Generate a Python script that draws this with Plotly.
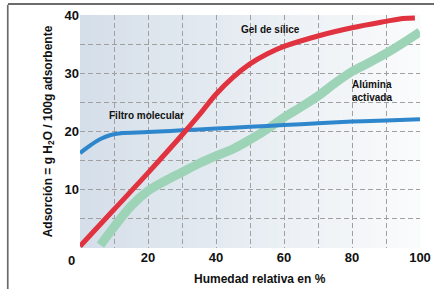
import plotly.graph_objects as go

# Data
blue_x = [0, 3, 6, 9, 12, 20, 30, 40, 50, 60, 70, 80, 90, 100]
blue_y = [16.3, 17.6, 18.7, 19.4, 19.7, 19.9, 20.2, 20.5, 20.8, 21.1, 21.4, 21.7, 21.9, 22.1]
red_x = [0, 10, 20, 30, 35, 40, 45, 50, 55, 60, 70, 80, 90, 95, 98.5]
red_y = [0.3, 6.6, 12.9, 19.4, 22.8, 26.4, 29.3, 31.6, 33.3, 34.6, 36.4, 37.8, 38.9, 39.4, 39.5]
green_x = [6, 10, 15, 20, 25, 30, 35, 40, 45, 50, 55, 60, 65, 70, 75, 80, 85, 90, 95, 100]
green_y = [0.5, 3.6, 7.2, 9.8, 11.5, 13.0, 14.5, 15.8, 17.0, 18.6, 20.4, 22.4, 24.2, 26.1, 28.3, 30.3, 31.8, 33.4, 35.2, 37.1]
x_ticks = [10, 20, 30, 40, 50, 60, 70, 80, 90, 100]
x_labels = ["", "20", "", "40", "", "60", "", "80", "", "100"]
y_ticks = [5, 10, 15, 20, 25, 30, 35, 40]
y_labels = ["", "10", "", "20", "", "30", "", "40"]

FONT = "Liberation Sans, Arial, sans-serif"

fig = go.Figure()
fig.add_trace(go.Scatter(x=green_x, y=green_y, mode="lines", line=dict(color="#9dd3b6", width=9, shape="spline"), hoverinfo="skip", cliponaxis=False))
fig.add_trace(go.Scatter(x=blue_x, y=blue_y, mode="lines", line=dict(color="#2e86cc", width=4, shape="spline"), hoverinfo="skip"))
fig.add_trace(go.Scatter(x=red_x, y=red_y, mode="lines", line=dict(color="#e0323f", width=5, shape="spline"), hoverinfo="skip"))

# gradient background
shapes = []
n = 60
c0 = (213, 223, 233)
c1 = (250, 251, 252)
for i in range(n):
    t = i / (n - 1)
    c = tuple(int(round(c0[k] + (c1[k] - c0[k]) * t)) for k in range(3))
    shapes.append(dict(type="rect", xref="x domain", yref="y domain", x0=i / n, x1=(i + 1) / n + 0.002,
                       y0=0, y1=1, layer="below", line=dict(width=0),
                       fillcolor="rgb(%d,%d,%d)" % c))
# left frame edge
shapes.append(dict(type="rect", xref="paper", yref="paper", x0=-0.215, x1=-0.21, y0=1.044, y1=-0.2,
                   line=dict(width=0), fillcolor="#6b6b6b", layer="above"))

fig.update_layout(
    width=434, height=289,
    margin=dict(l=80, r=14, t=15, b=41),
    paper_bgcolor="white", plot_bgcolor="rgba(0,0,0,0)",
    showlegend=False,
    shapes=shapes,
    font=dict(family=FONT, color="#111"),
)
fig.update_xaxes(range=[0, 100], tickmode="array", tickvals=x_ticks, ticktext=x_labels,
                 showgrid=True, gridcolor="#a0a0a0", griddash="5px,3px", gridwidth=1,
                 zeroline=False, showline=False, ticks="", automargin=False,
                 tickfont=dict(size=13, family=FONT, color="#111", weight="bold"))
fig.update_yaxes(range=[0, 40], tickmode="array", tickvals=y_ticks, ticktext=y_labels,
                 showgrid=True, gridcolor="#a0a0a0", griddash="5px,3px", gridwidth=1,
                 zeroline=False, showline=False, ticks="", automargin=False,
                 tickfont=dict(size=13, family=FONT, color="#111", weight="bold"),
                 title=dict(text="<b>Adsorción = g H<sub>2</sub>O / 100g adsorbente</b>", font=dict(size=12, family=FONT), standoff=9))

ann = dict(showarrow=False, font=dict(size=10, family=FONT, color="#111", weight="bold"))
fig.add_annotation(x=0, y=0, xref="x", yref="y", text="<b>0</b>", xshift=-9, yshift=-12,
                   showarrow=False, font=dict(size=13, family=FONT, color="#111"))
fig.add_annotation(x=0.5, y=0, xref="paper", yref="paper", text="<b>Humedad relativa en %</b>",
                   xshift=10, yshift=-31, yanchor="middle", showarrow=False,
                   font=dict(size=12, family=FONT, color="#111"))
fig.add_annotation(x=56, y=37.5, xref="x", yref="y", text="<b>Gel de sílice</b>", **ann)
fig.add_annotation(x=19.5, y=22.8, xref="x", yref="y", text="<b>Filtro molecular</b>", **ann)
fig.add_annotation(x=79.5, y=27.0, xref="x", yref="y", text="<b>Alúmina<br>activada</b>", align="left", xanchor="left", **ann)

post = (
    "document.body.style.margin='0px';document.body.style.overflow='hidden';"
    "var d=document.createElement('div');"
    "d.style.cssText='position:fixed;left:8px;top:3px;width:430px;height:2px;background:#6b6b6b;z-index:10;pointer-events:none;';"
    "document.body.appendChild(d);"
)
fig.write_html("out.html", config={"displayModeBar": False}, post_script=post)
